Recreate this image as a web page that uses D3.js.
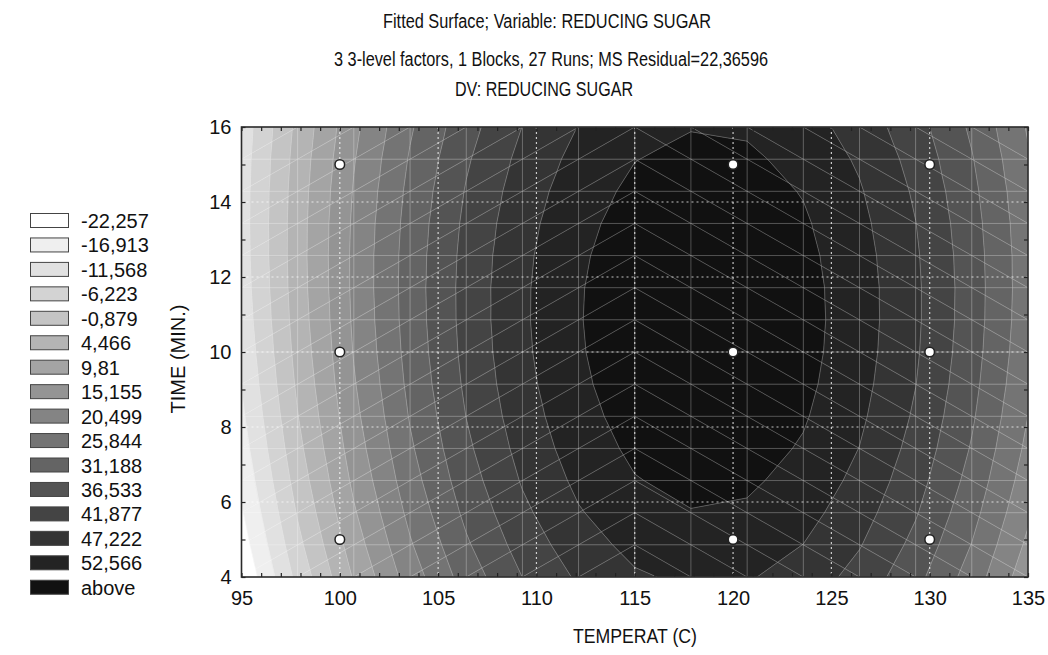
<!DOCTYPE html>
<html><head><meta charset="utf-8">
<script src="https://cdn.jsdelivr.net/npm/d3@7"></script>
<style>
body{margin:0;background:#fff;}
text{font-family:Arial,"Liberation Sans",sans-serif;fill:#111;}
</style>
</head><body>
<svg id="chart" width="1048" height="655"></svg>
<script>
// ---------------- data ----------------
const titleLines = [
  "Fitted Surface; Variable: REDUCING SUGAR",
  "3 3-level factors, 1 Blocks, 27 Runs; MS Residual=22,36596",
  "DV: REDUCING SUGAR"
];
const xLabel = "TEMPERAT (C)";
const yLabel = "TIME (MIN.)";
const xDomain = [95, 135];
const yDomain = [4, 16];
const xTickLabels = [95, 100, 105, 110, 115, 120, 125, 130, 135];
const yTickLabels = [4, 6, 8, 10, 12, 14, 16];
// contour levels (upper bounds of the bands) and legend
const levelValues = [-22.257, -16.913, -11.568, -6.223, -0.879, 4.466, 9.81, 15.155,
                     20.499, 25.844, 31.188, 36.533, 41.877, 47.222, 52.566];
const legendLabels = ["-22,257","-16,913","-11,568","-6,223","-0,879","4,466","9,81","15,155",
                      "20,499","25,844","31,188","36,533","41,877","47,222","52,566","above"];
const bandColors = ["#ffffff","#efefef","#e1e1e1","#d3d3d3","#c4c4c4","#b4b4b4","#a4a4a4","#949494",
                    "#848484","#747474","#646464","#545454","#444444","#343434","#232323","#111111"];
// fitted surface, terms of T (temperature) and t (time)
const coefNames  = ["Intercept", "T", "t", "T^2", "t^2", "T*t", "T^2*t", "T*t^2", "T^2*t^2"];
const coefValues = [-1850.88, 31.7881208, -6.589251, -0.134014, 1.2262883,
                    0.1843044, -0.000777, -0.02405208, 0.0001014];
// design runs (observed points)
const runTemp = [100, 100, 100, 120, 120, 120, 130, 130, 130];
const runTime = [5, 10, 15, 5, 10, 15, 5, 10, 15];
const meshSteps = 14;

// ---------------- layout ----------------
const svg = d3.select("#chart");
const plot = {left: 241.5, right: 1028, top: 127, bottom: 577};
const x = d3.scaleLinear().domain(xDomain).range([plot.left, plot.right]);
const y = d3.scaleLinear().domain(yDomain).range([plot.bottom, plot.top]);

function surface(T, t) {
  const [b0, bT, bt, bTT, btt, bTt, bTTt, bTtt, bTTtt] = coefValues;
  return b0 + bT * T + bt * t + bTT * T * T + btt * t * t + bTt * T * t
       + bTTt * T * T * t + bTtt * T * t * t + bTTtt * T * T * t * t;
}

const meshT = d3.scaleLinear().domain([0, meshSteps]).range(xDomain);
const meshY = d3.scaleLinear().domain([0, meshSteps]).range(yDomain);
const nodes = d3.range(meshSteps + 1).map(i => d3.range(meshSteps + 1).map(j => {
  const T = meshT(i), t = meshY(j);
  return {T, t, z: surface(T, t)};
}));
const triangles = [];
for (let i = 0; i < meshSteps; i++) {
  for (let j = 0; j < meshSteps; j++) {
    const p00 = nodes[i][j], p10 = nodes[i + 1][j], p01 = nodes[i][j + 1], p11 = nodes[i + 1][j + 1];
    if (i < meshSteps / 2) {
      triangles.push([p00, p10, p11], [p00, p11, p01]);
    } else {
      triangles.push([p00, p10, p01], [p10, p11, p01]);
    }
  }
}

function clip(poly, val, keepAbove) {
  const out = [];
  for (let k = 0; k < poly.length; k++) {
    const a = poly[k], b = poly[(k + 1) % poly.length];
    const ina = keepAbove ? a.z >= val : a.z <= val;
    const inb = keepAbove ? b.z >= val : b.z <= val;
    if (ina) out.push(a);
    if (ina !== inb) {
      const f = (val - a.z) / (b.z - a.z);
      out.push({T: a.T + f * (b.T - a.T), t: a.t + f * (b.t - a.t), z: val});
    }
  }
  return out;
}

const defs = svg.append("defs");
defs.append("clipPath").attr("id", "plotclip").append("rect")
  .attr("x", plot.left).attr("y", plot.top)
  .attr("width", plot.right - plot.left).attr("height", plot.bottom - plot.top);

const gPlot = svg.append("g").attr("clip-path", "url(#plotclip)");
const line = d3.line().x(d => x(d.T)).y(d => y(d.t));

// band polygons
const bandPolys = [];
triangles.forEach(tri => {
  for (let b = 0; b < bandColors.length; b++) {
    let poly = tri;
    if (b > 0) poly = clip(poly, levelValues[b - 1], true);
    if (poly.length >= 3 && b < levelValues.length) poly = clip(poly, levelValues[b], false);
    if (poly.length >= 3) bandPolys.push({poly, color: bandColors[b]});
  }
});
gPlot.selectAll("path.band").data(bandPolys).join("path")
  .attr("class", "band")
  .attr("d", d => line(d.poly) + "Z")
  .attr("fill", d => d.color)
  .attr("stroke", d => d.color)
  .attr("stroke-width", 0.6);

// contour lines
const contourSegs = [];
triangles.forEach(tri => {
  levelValues.forEach(L => {
    const pts = [];
    for (let k = 0; k < 3; k++) {
      const a = tri[k], b = tri[(k + 1) % 3];
      if ((a.z - L) * (b.z - L) < 0) {
        const f = (L - a.z) / (b.z - a.z);
        pts.push({T: a.T + f * (b.T - a.T), t: a.t + f * (b.t - a.t)});
      }
    }
    if (pts.length === 2) contourSegs.push(pts);
  });
});
gPlot.selectAll("path.cont").data(contourSegs).join("path")
  .attr("class", "cont")
  .attr("d", d => line(d))
  .attr("fill", "none")
  .attr("stroke", "rgba(255,255,255,0.28)")
  .attr("stroke-width", 1);

// mesh lines
const meshSegs = [];
for (let i = 0; i <= meshSteps; i++) {
  meshSegs.push([nodes[i][0], nodes[i][meshSteps]]);
  meshSegs.push([nodes[0][i], nodes[meshSteps][i]]);
}
for (let i = 0; i < meshSteps; i++) {
  for (let j = 0; j < meshSteps; j++) {
    if (i < meshSteps / 2) meshSegs.push([nodes[i][j], nodes[i + 1][j + 1]]);
    else meshSegs.push([nodes[i][j + 1], nodes[i + 1][j]]);
  }
}
gPlot.selectAll("path.mesh").data(meshSegs).join("path")
  .attr("class", "mesh")
  .attr("d", d => line(d))
  .attr("fill", "none")
  .attr("stroke", "rgba(255,255,255,0.25)")
  .attr("stroke-width", 1);

// dotted major grid
gPlot.selectAll("line.gx").data(xTickLabels.slice(1, -1)).join("line")
  .attr("x1", d => x(d)).attr("x2", d => x(d))
  .attr("y1", plot.top).attr("y2", plot.bottom)
  .attr("stroke", "rgba(255,255,255,0.75)").attr("stroke-width", 1.2)
  .attr("stroke-dasharray", "2,3");
gPlot.selectAll("line.gy").data(yTickLabels.slice(1, -1)).join("line")
  .attr("x1", plot.left).attr("x2", plot.right)
  .attr("y1", d => y(d)).attr("y2", d => y(d))
  .attr("stroke", "rgba(255,255,255,0.75)").attr("stroke-width", 1.2)
  .attr("stroke-dasharray", "2,3");

// points
gPlot.selectAll("circle.run").data(runTemp.map((T, i) => ({T, t: runTime[i]}))).join("circle")
  .attr("cx", d => x(d.T)).attr("cy", d => y(d.t)).attr("r", 4.8)
  .attr("fill", "#fff").attr("stroke", "#222").attr("stroke-width", 1.5);

// axes
const minorX = d3.range(xDomain[0], xDomain[1] + 1, 1);
const minorY = d3.range(yDomain[0], yDomain[1] + 1, 1);
const fmtX = d => xTickLabels.includes(d) ? String(d) : "";
const fmtY = d => yTickLabels.includes(d) ? String(d) : "";
function styleAxis(g, fs) {
  g.select(".domain").remove();
  g.selectAll(".tick line").attr("stroke", "#222").attr("stroke-width", 1.2);
  g.selectAll(".tick text").attr("font-size", fs).attr("fill", "#111")
    .attr("font-family", "Arial, 'Liberation Sans', sans-serif");
}
svg.append("g").attr("transform", `translate(0,${plot.bottom})`)
  .call(d3.axisBottom(x).tickValues(minorX).tickFormat(fmtX).tickSizeInner(-4).tickSizeOuter(0).tickPadding(14))
  .call(g => styleAxis(g, 20));
svg.append("g").attr("transform", `translate(0,${plot.top})`)
  .call(d3.axisTop(x).tickValues(minorX).tickFormat(() => "").tickSizeInner(-4).tickSizeOuter(0))
  .call(g => styleAxis(g, 20));
svg.append("g").attr("transform", `translate(${plot.left},0)`)
  .call(d3.axisLeft(y).tickValues(minorY).tickFormat(fmtY).tickSizeInner(-4).tickSizeOuter(0).tickPadding(10))
  .call(g => styleAxis(g, 20));
svg.append("g").attr("transform", `translate(${plot.right},0)`)
  .call(d3.axisRight(y).tickValues(minorY).tickFormat(() => "").tickSizeInner(-4).tickSizeOuter(0))
  .call(g => styleAxis(g, 20));

// frame
svg.append("rect").attr("x", plot.left).attr("y", plot.top)
  .attr("width", plot.right - plot.left).attr("height", plot.bottom - plot.top)
  .attr("fill", "none").attr("stroke", "#2a2a2a").attr("stroke-width", 1.6);

// titles (condensed face, fitted to the measured widths)
const titleX = [547, 551, 544];
const titleY = [28, 66, 96];
const titleW = [328, 434, 178];
svg.selectAll("text.title").data(titleLines).join("text")
  .attr("class", "title")
  .attr("x", (d, i) => titleX[i]).attr("y", (d, i) => titleY[i])
  .attr("text-anchor", "middle")
  .attr("textLength", (d, i) => titleW[i])
  .attr("lengthAdjust", "spacingAndGlyphs")
  .style("font-size", "20px")
  .text(d => d);

svg.append("text").attr("x", 635).attr("y", 643)
  .attr("text-anchor", "middle")
  .attr("textLength", 124).attr("lengthAdjust", "spacingAndGlyphs")
  .style("font-size", "20px").text(xLabel);
svg.append("text").attr("transform", "translate(185,359) rotate(-90)")
  .attr("text-anchor", "middle").style("font-size", "20px").text(yLabel);

// legend
const legend = svg.append("g");
const rowH = 24.45;
legend.selectAll("rect").data(legendLabels).join("rect")
  .attr("x", 30.5).attr("y", (d, i) => 213.5 + i * rowH)
  .attr("width", 38).attr("height", 14)
  .attr("fill", (d, i) => bandColors[i])
  .attr("stroke", "#444").attr("stroke-width", 1);
legend.selectAll("text").data(legendLabels).join("text")
  .attr("x", 81).attr("y", (d, i) => 228 + i * rowH)
  .style("font-size", "20px")
  .text(d => d);
</script>
</body></html>
